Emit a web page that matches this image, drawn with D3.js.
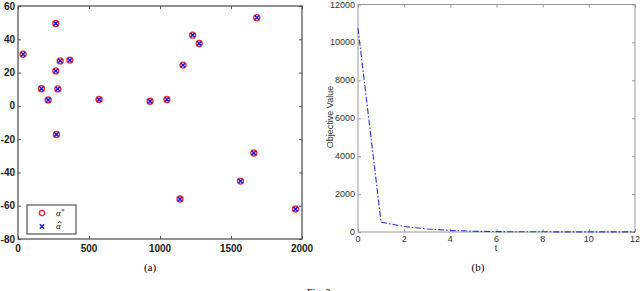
<!DOCTYPE html>
<html>
<head>
<meta charset="utf-8">
<script src="https://cdn.jsdelivr.net/npm/d3@7"></script>
<style>
  body { margin: 0; background: #fff; }
  svg { display: block; }
</style>
</head>
<body>
<div id="chart"></div>
<script>
// panel (a): true vs estimated parameters
let posX = [36, 266, 165, 212, 266, 280, 297, 365, 271, 571, 930, 1049, 1162, 1230, 1276, 1682, 1141, 1567, 1661, 1954];
let trueY = [31, 49.5, 10.3, 3.5, 21, 10.2, 27, 27.5, -17.2, 3.8, 2.8, 3.8, 24.5, 42.5, 37.5, 53, -56, -45.2, -28.3, -62];
let estY = [31, 49.5, 10.3, 3.5, 21, 10.2, 27, 27.5, -17.2, 3.8, 2.8, 3.8, 24.5, 42.5, 37.5, 53, -56, -45.2, -28.3, -62];
let xTicksA = [0, 500, 1000, 1500, 2000];
let yTicksA = [60, 40, 20, 0, -20, -40, -60, -80];

// panel (b): objective value per iteration
let iterT = [0, 1, 2, 3, 4, 5, 6, 7, 8, 9, 10, 11, 12];
let objVal = [10750, 520, 290, 160, 85, 40, 20, 12, 10, 8, 8, 7, 7];
let xTicksB = [0, 2, 4, 6, 8, 10, 12];
let yTicksB = [0, 2000, 4000, 6000, 8000, 10000, 12000];

let width = 640, height = 291;
let svg = d3.select('#chart').append('svg')
  .attr('width', width)
  .attr('height', height);

// ---------- (a) ----------
let xa = d3.scaleLinear().domain([0, 2000]).range([18, 302]);
let ya = d3.scaleLinear().domain([-80, 60]).range([239, 6]);
let ga = svg.append('g');

function frame(g, x, y, xt, yt, stroke, sw) {
  // inward ticks on all four sides, matlab style
  g.append('g').attr('transform', 'translate(0,' + y.range()[0] + ')')
    .call(d3.axisBottom(x).tickValues(xt).tickSize(-3).tickFormat(''))
    .call(s => s.select('.domain').remove());
  g.append('g').attr('transform', 'translate(0,' + y.range()[1] + ')')
    .call(d3.axisTop(x).tickValues(xt).tickSize(-3).tickFormat(''))
    .call(s => s.select('.domain').remove());
  g.append('g').attr('transform', 'translate(' + x.range()[0] + ',0)')
    .call(d3.axisLeft(y).tickValues(yt).tickSize(-3).tickFormat(''))
    .call(s => s.select('.domain').remove());
  g.append('g').attr('transform', 'translate(' + x.range()[1] + ',0)')
    .call(d3.axisRight(y).tickValues(yt).tickSize(-3).tickFormat(''))
    .call(s => s.select('.domain').remove());
  g.selectAll('.tick line').attr('stroke', stroke);
  g.append('rect')
    .attr('x', x.range()[0]).attr('y', y.range()[1])
    .attr('width', x.range()[1] - x.range()[0])
    .attr('height', y.range()[0] - y.range()[1])
    .attr('fill', 'none').attr('stroke', stroke).attr('stroke-width', sw);
}

frame(ga, xa, ya, xTicksA, yTicksA, '#555', 1.3);

ga.selectAll('text.xl').data(xTicksA).enter().append('text')
  .attr('class', 'xl')
  .attr('x', d => xa(d)).attr('y', 252)
  .attr('text-anchor', 'middle')
  .attr('font-family', 'Liberation Sans, Arial, sans-serif')
  .attr('font-size', 10).attr('font-weight', 'bold')
  .attr('fill', '#222')
  .text(d => d);
ga.selectAll('text.yl').data(yTicksA).enter().append('text')
  .attr('class', 'yl')
  .attr('x', 15).attr('y', d => ya(d) + 3.5)
  .attr('text-anchor', 'end')
  .attr('font-family', 'Liberation Sans, Arial, sans-serif')
  .attr('font-size', 10).attr('font-weight', 'bold')
  .attr('fill', '#222')
  .text(d => d);

ga.selectAll('circle.truth').data(posX).enter().append('circle')
  .attr('class', 'truth')
  .attr('cx', d => xa(d)).attr('cy', (d, i) => ya(trueY[i]))
  .attr('r', 3)
  .attr('fill', 'none').attr('stroke', '#f03030').attr('stroke-width', 1.4);

let cross = d3.symbol().type(d3.symbolX).size(14);
ga.selectAll('path.est').data(posX).enter().append('path')
  .attr('class', 'est')
  .attr('transform', (d, i) => 'translate(' + xa(d) + ',' + ya(estY[i]) + ')')
  .attr('d', cross)
  .attr('fill', 'none').attr('stroke', '#1a1aee').attr('stroke-width', 1.5);

// legend
ga.append('rect')
  .attr('x', 27).attr('y', 205).attr('width', 49).attr('height', 29)
  .attr('fill', '#fff').attr('stroke', '#555').attr('stroke-width', 1.2);
ga.append('circle').attr('cx', 42).attr('cy', 213).attr('r', 2.6)
  .attr('fill', 'none').attr('stroke', '#f03030').attr('stroke-width', 1.4);
ga.append('path').attr('transform', 'translate(42,226.5)')
  .attr('d', cross).attr('fill', 'none').attr('stroke', '#1a1aee').attr('stroke-width', 1.5);
ga.append('text').attr('x', 56).attr('y', 216)
  .attr('font-family', 'Liberation Serif, Times New Roman, serif')
  .attr('font-size', 9).attr('font-style', 'italic')
  .html('α<tspan dy="-3" font-size="7">*</tspan>');
ga.append('text').attr('x', 56).attr('y', 229)
  .attr('font-family', 'Liberation Serif, Times New Roman, serif')
  .attr('font-size', 9).attr('font-style', 'italic')
  .text('α');
// hat over the estimate symbol
ga.append('path')
  .attr('d', 'M57.8,223.2 L59.6,221.2 L61.4,223.2')
  .attr('fill', 'none').attr('stroke', '#222').attr('stroke-width', 0.8);

svg.append('text').attr('x', 150).attr('y', 271)
  .attr('text-anchor', 'middle')
  .attr('font-family', 'Liberation Serif, Times New Roman, serif')
  .attr('font-size', 11)
  .text('(a)');

// ---------- (b) ----------
let xb = d3.scaleLinear().domain([0, 12]).range([358, 635]);
let yb = d3.scaleLinear().domain([0, 12000]).range([232, 4.5]);
let gb = svg.append('g');

frame(gb, xb, yb, xTicksB, yTicksB, '#999', 1);

gb.selectAll('text.xl').data(xTicksB).enter().append('text')
  .attr('class', 'xl')
  .attr('x', d => xb(d)).attr('y', 242)
  .attr('text-anchor', 'middle')
  .attr('font-family', 'Liberation Sans, Arial, sans-serif')
  .attr('font-size', 9).attr('fill', '#333')
  .text(d => d);
gb.selectAll('text.yl').data(yTicksB).enter().append('text')
  .attr('class', 'yl')
  .attr('x', 355).attr('y', d => yb(d) + 3)
  .attr('text-anchor', 'end')
  .attr('font-family', 'Liberation Sans, Arial, sans-serif')
  .attr('font-size', 9).attr('fill', '#333')
  .text(d => d);

gb.append('path')
  .datum(iterT)
  .attr('d', d3.line().x(d => xb(d)).y((d, i) => yb(objVal[i])))
  .attr('fill', 'none').attr('stroke', '#2233dd').attr('stroke-width', 1.1)
  .attr('stroke-dasharray', '6,2,1.5,2');

gb.append('text')
  .attr('transform', 'translate(333,117) rotate(-90)')
  .attr('text-anchor', 'middle')
  .attr('font-family', 'Liberation Sans, Arial, sans-serif')
  .attr('font-size', 9).attr('fill', '#333')
  .text('Objective Value');
gb.append('text').attr('x', 496).attr('y', 251)
  .attr('text-anchor', 'middle')
  .attr('font-family', 'Liberation Sans, Arial, sans-serif')
  .attr('font-size', 9).attr('fill', '#333')
  .text('t');

svg.append('text').attr('x', 478).attr('y', 271)
  .attr('text-anchor', 'middle')
  .attr('font-family', 'Liberation Serif, Times New Roman, serif')
  .attr('font-size', 11)
  .text('(b)');

svg.append('text').attr('x', 320).attr('y', 296)
  .attr('text-anchor', 'middle')
  .attr('font-family', 'Liberation Serif, Times New Roman, serif')
  .attr('font-size', 10)
  .text('Fig. 3.');
</script>
</body>
</html>
